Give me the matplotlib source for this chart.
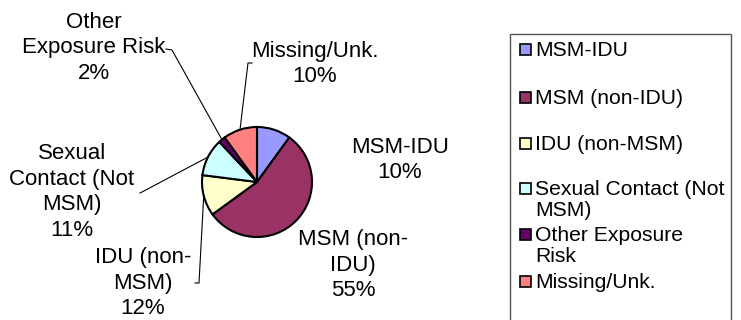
import numpy as np
import matplotlib.pyplot as plt
from matplotlib.patches import Rectangle

plt.rcParams["font.family"] = ["Liberation Sans", "DejaVu Sans"]

# Exposure categories and their shares (%)
categories = ["MSM-IDU", "MSM (non-IDU)", "IDU (non-MSM)",
              "Sexual Contact (Not MSM)", "Other Exposure Risk", "Missing/Unk."]
shares = [10, 55, 12, 11, 2, 10]
colors = ["#9999FF", "#993366", "#FFFFCC", "#CCFFFF", "#660066", "#FF8080"]

# wrapped text used on the pie labels and in the legend
pie_names = ["MSM-IDU", "MSM (non-\nIDU)", "IDU (non-\nMSM)",
             "Sexual\nContact (Not\nMSM)", "Other\nExposure Risk", "Missing/Unk."]
legend_names = ["MSM-IDU", "MSM (non-IDU)", "IDU (non-MSM)",
                "Sexual Contact (Not\nMSM)", "Other Exposure\nRisk", "Missing/Unk."]

W, H = 741, 320
fig = plt.figure(figsize=(W / 100, H / 100), dpi=100)
ax = fig.add_axes([0, 0, 1, 1])

# pie geometry in pixel units (y measured from the top)
cx, cy, r = 257, 182, 55
wedges, _ = ax.pie(shares, colors=colors, startangle=90, counterclock=False,
                   center=(cx, H - cy), radius=r, frame=True,
                   wedgeprops=dict(edgecolor="black", linewidth=1.5))
ax.set_xlim(0, W)
ax.set_ylim(0, H)
ax.set_aspect("equal")
ax.axis("off")

fs = 16
ls = 1.3
# label centres and leader lines (text end, elbow), None = no leader
label_pos = [(400, 160), (353, 265), (143, 283), (72, 192), (94, 48), (315, 64)]
leaders = [None, None, [(195, 283), (199, 283)], [(140, 193), (142, 192)],
           [(166, 49), (172, 50)], [(252, 63), (248, 63)]]

for w, name, val, pos, lead in zip(wedges, pie_names, shares, label_pos, leaders):
    ax.text(pos[0], H - pos[1], f"{name}\n{val}%", ha="center", va="center",
            fontsize=fs, linespacing=ls)
    if lead is not None:
        mid = np.deg2rad((w.theta1 + w.theta2) / 2)
        ex, ey = cx + r * np.cos(mid), cy - r * np.sin(mid)
        xs = [p[0] for p in lead] + [ex]
        ys = [H - p[1] for p in lead] + [H - ey]
        ax.plot(xs, ys, color="black", lw=0.8)

# legend box, drawn by hand so wrapped entries keep evenly spaced slots
ax.add_patch(Rectangle((510, -5), 221, H - 34 + 5, fill=False,
                       edgecolor="#555555", lw=1.0))
slot_y = [49, 97, 143, 188, 234, 281]
for name, col, y in zip(legend_names, colors, slot_y):
    ax.add_patch(Rectangle((520, H - y - 5.5), 11, 11, facecolor=col,
                           edgecolor="black", lw=1.2))
    ax.text(535, H - y + 8, name, ha="left", va="top", fontsize=15.2,
            linespacing=1.15)

fig.savefig("out.png", dpi=100)
